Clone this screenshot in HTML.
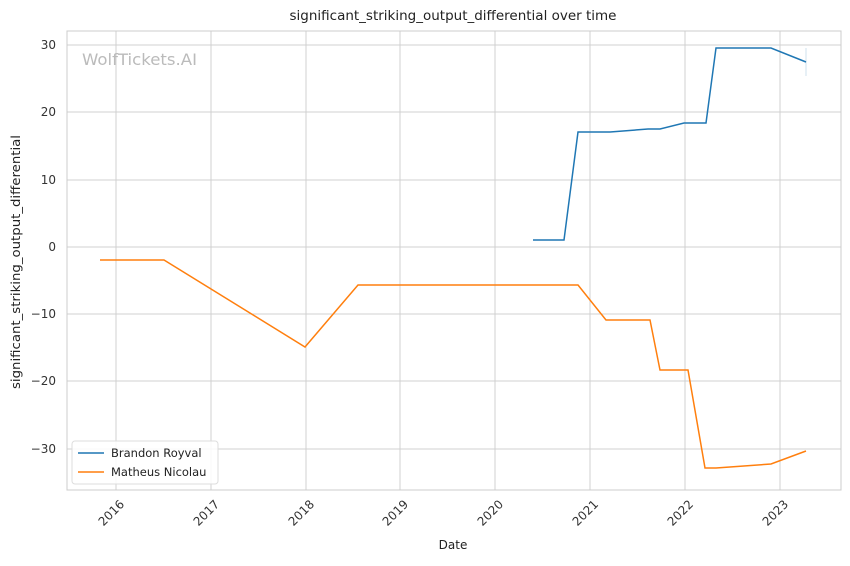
<!DOCTYPE html>
<html><head><meta charset="utf-8"><style>
body{margin:0;background:#fff;font-family:"Liberation Sans","DejaVu Sans",sans-serif;}
</style></head><body>
<svg width="850" height="561" xmlns="http://www.w3.org/2000/svg" font-family="DejaVu Sans, Liberation Sans, sans-serif">
<rect width="850" height="561" fill="#fff"/>
<g stroke="#d0d0d0" stroke-width="1">
<line x1="116" y1="31" x2="116" y2="490"/><line x1="211" y1="31" x2="211" y2="490"/>
<line x1="306" y1="31" x2="306" y2="490"/><line x1="400" y1="31" x2="400" y2="490"/>
<line x1="495" y1="31" x2="495" y2="490"/><line x1="590" y1="31" x2="590" y2="490"/>
<line x1="685" y1="31" x2="685" y2="490"/><line x1="780" y1="31" x2="780" y2="490"/>
<line x1="67" y1="45" x2="841" y2="45"/><line x1="67" y1="112" x2="841" y2="112"/>
<line x1="67" y1="180" x2="841" y2="180"/><line x1="67" y1="247" x2="841" y2="247"/>
<line x1="67" y1="314" x2="841" y2="314"/><line x1="67" y1="381" x2="841" y2="381"/>
<line x1="67" y1="449" x2="841" y2="449"/>
</g>
<rect x="67" y="31" width="774" height="459" fill="none" stroke="#ccc" stroke-width="1"/>
<text x="82" y="65" font-size="16" fill="#bbb" textLength="115" lengthAdjust="spacingAndGlyphs">WolfTickets.AI</text>
<line x1="806" y1="48" x2="806" y2="76" stroke="#cfe0ee" stroke-width="1"/>
<polyline fill="none" stroke="#1f77b4" stroke-width="1.5" points="533,240 564,240 578,132 610,132 648,129 660,129 684,123 706,123 716,48 771,48 806,62"/>
<polyline fill="none" stroke="#ff7f0e" stroke-width="1.5" points="100,260 164,260 305,347 358,285 578,285 606,320 650,320 660,370 688,370 705,468 716,468 771,464 806,451"/>
<g font-size="12" fill="#333" text-anchor="end">
<text x="56" y="49">30</text><text x="56" y="116">20</text><text x="56" y="184">10</text>
<text x="56" y="251">0</text><text x="56" y="318">−10</text><text x="56" y="385">−20</text><text x="56" y="453">−30</text>
</g>
<g font-size="12" fill="#333" text-anchor="end">
<text transform="translate(125,505) rotate(-45)">2016</text>
<text transform="translate(220,505) rotate(-45)">2017</text>
<text transform="translate(315,505) rotate(-45)">2018</text>
<text transform="translate(409,505) rotate(-45)">2019</text>
<text transform="translate(504,505) rotate(-45)">2020</text>
<text transform="translate(599,505) rotate(-45)">2021</text>
<text transform="translate(694,505) rotate(-45)">2022</text>
<text transform="translate(789,505) rotate(-45)">2023</text>
</g>
<text x="453" y="549" font-size="12" fill="#222" text-anchor="middle">Date</text>
<text transform="translate(20,262) rotate(-90)" font-size="12" fill="#222" text-anchor="middle" textLength="254" lengthAdjust="spacingAndGlyphs">significant_striking_output_differential</text>
<text x="453" y="20" font-size="13" fill="#222" text-anchor="middle" textLength="327" lengthAdjust="spacingAndGlyphs">significant_striking_output_differential over time</text>
<rect x="72" y="441" width="146" height="43" rx="3" fill="#fff" fill-opacity="0.85" stroke="#ddd"/>
<line x1="78" y1="453" x2="104" y2="453" stroke="#1f77b4" stroke-width="1.5"/>
<text x="111" y="457" font-size="11.5" fill="#222">Brandon Royval</text>
<line x1="78" y1="472" x2="104" y2="472" stroke="#ff7f0e" stroke-width="1.5"/>
<text x="111" y="476" font-size="11.5" fill="#222">Matheus Nicolau</text>
</svg>
</body></html>
